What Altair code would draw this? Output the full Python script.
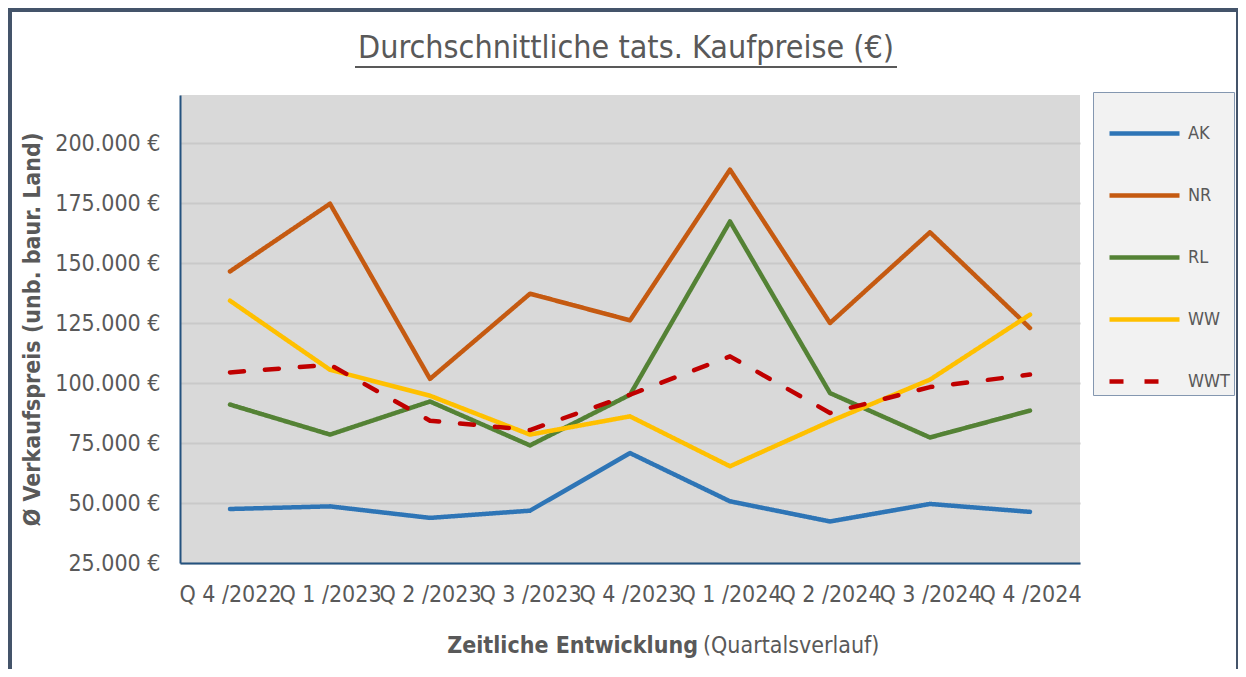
import altair as alt
import pandas as pd

quarters = ["Q 4 /2022", "Q 1 /2023", "Q 2 /2023", "Q 3 /2023", "Q 4 /2023",
            "Q 1 /2024", "Q 2 /2024", "Q 3 /2024", "Q 4 /2024"]
ak = [47500, 48600, 43800, 46800, 70800, 50700, 42300, 49600, 46300]
nr = [146500, 174700, 101700, 137200, 126100, 188900, 125000, 162800, 122900]
rl = [91000, 78500, 92300, 74000, 95100, 167300, 95800, 77300, 88500]
ww = [134300, 105500, 94700, 78500, 86100, 65300, 84000, 101400, 128500]
wwt = [104400, 107600, 84300, 80400, 95100, 111100, 87500, 98300, 103500]

series_names = ["AK", "NR", "RL", "WW", "WWT"]
series_values = [ak, nr, rl, ww, wwt]
colors = ["#2E75B6", "#C55A11", "#548235", "#FFC000", "#C00000"]
dashes = [[1, 0], [1, 0], [1, 0], [1, 0], [14, 21]]
y_ticks = [25000, 50000, 75000, 100000, 125000, 150000, 175000, 200000]

rows = []
for name, vals in zip(series_names, series_values):
    for q, v in zip(quarters, vals):
        rows.append({"quarter": q, "series": name, "value": v})
df = pd.DataFrame(rows)

FONT = "Liberation Sans Narrow, Arial Narrow, DejaVu Sans Condensed, sans-serif"
GREY = "#595959"
AXIS_BLUE = "#24527F"

leg = alt.Legend(title=None, orient="none", legendX=913, legendY=-3)

lines = alt.Chart(df).mark_line(strokeWidth=4.5, strokeCap="round", strokeJoin="round").encode(
    x=alt.X("quarter:O", sort=quarters, scale=alt.Scale(type="point", padding=0.5),
            axis=alt.Axis(title=None, labelAngle=0, ticks=False, domainColor=AXIS_BLUE,
                          domainWidth=2, labelFont=FONT, labelFontSize=23, labelColor=GREY,
                          labelPadding=20, grid=False)),
    y=alt.Y("value:Q", scale=alt.Scale(domain=[25000, 220000], nice=False, zero=False),
            axis=alt.Axis(title="Ø Verkaufspreis (unb. baur. Land)", values=y_ticks,
                          labelExpr="replace(format(datum.value, ',.0f'), ',', '.') + ' €'",
                          ticks=False, domainColor=AXIS_BLUE, domainWidth=2,
                          gridColor="#C9C9C9", gridWidth=2,
                          labelFont=FONT, labelFontSize=23, labelColor=GREY, labelPadding=20,
                          titleFont=FONT, titleFontSize=23, titleFontWeight="bold",
                          titleColor=GREY, titlePadding=10)),
    color=alt.Color("series:N", scale=alt.Scale(domain=series_names, range=colors), legend=leg),
    strokeDash=alt.StrokeDash("series:N", scale=alt.Scale(domain=series_names, range=dashes), legend=leg),
)

one = pd.DataFrame({"t": ["Durchschnittliche tats. Kaufpreise (€)"]})

frame = alt.Chart(one).mark_rect(fillOpacity=0, stroke="#44546A", strokeWidth=4).encode(
    x=alt.value(-170), x2=alt.value(1058), y=alt.value(-85), y2=alt.value(620))

title = alt.Chart(one).mark_text(font=FONT, fontSize=32, color=GREY, align="center",
                                 baseline="middle").encode(
    x=alt.value(446), y=alt.value(-47), text="t:N")

underline = alt.Chart(one).mark_rule(color=GREY, strokeWidth=2).encode(
    x=alt.value(175), x2=alt.value(717), y=alt.value(-28))

xt1 = alt.Chart(pd.DataFrame({"t": ["Zeitliche Entwicklung"]})).mark_text(
    font=FONT, fontSize=23, fontWeight="bold", color=GREY, align="right", baseline="middle").encode(
    x=alt.value(518), y=alt.value(551), text="t:N")
xt2 = alt.Chart(pd.DataFrame({"t": ["(Quartalsverlauf)"]})).mark_text(
    font=FONT, fontSize=23, color=GREY, align="left", baseline="middle").encode(
    x=alt.value(523), y=alt.value(551), text="t:N")

chart = alt.layer(frame, lines, title, underline, xt1, xt2).properties(
    width=900, height=468,
    autosize=alt.AutoSizeParams(type="none"),
    padding={"left": 172, "top": 87, "right": 158, "bottom": 106},
).configure_view(fill="#D9D9D9", strokeWidth=0).configure_legend(
    fillColor="#F2F2F2", strokeColor="#8497B0", padding=4,
    symbolType="stroke", symbolSize=4900, symbolStrokeWidth=4.5,
    symbolOffset=10, labelOffset=6, rowPadding=15,
    labelFont=FONT, labelFontSize=18, labelColor=GREY,
)

chart.save("out.html", embed_options={"renderer": "svg", "actions": False})
